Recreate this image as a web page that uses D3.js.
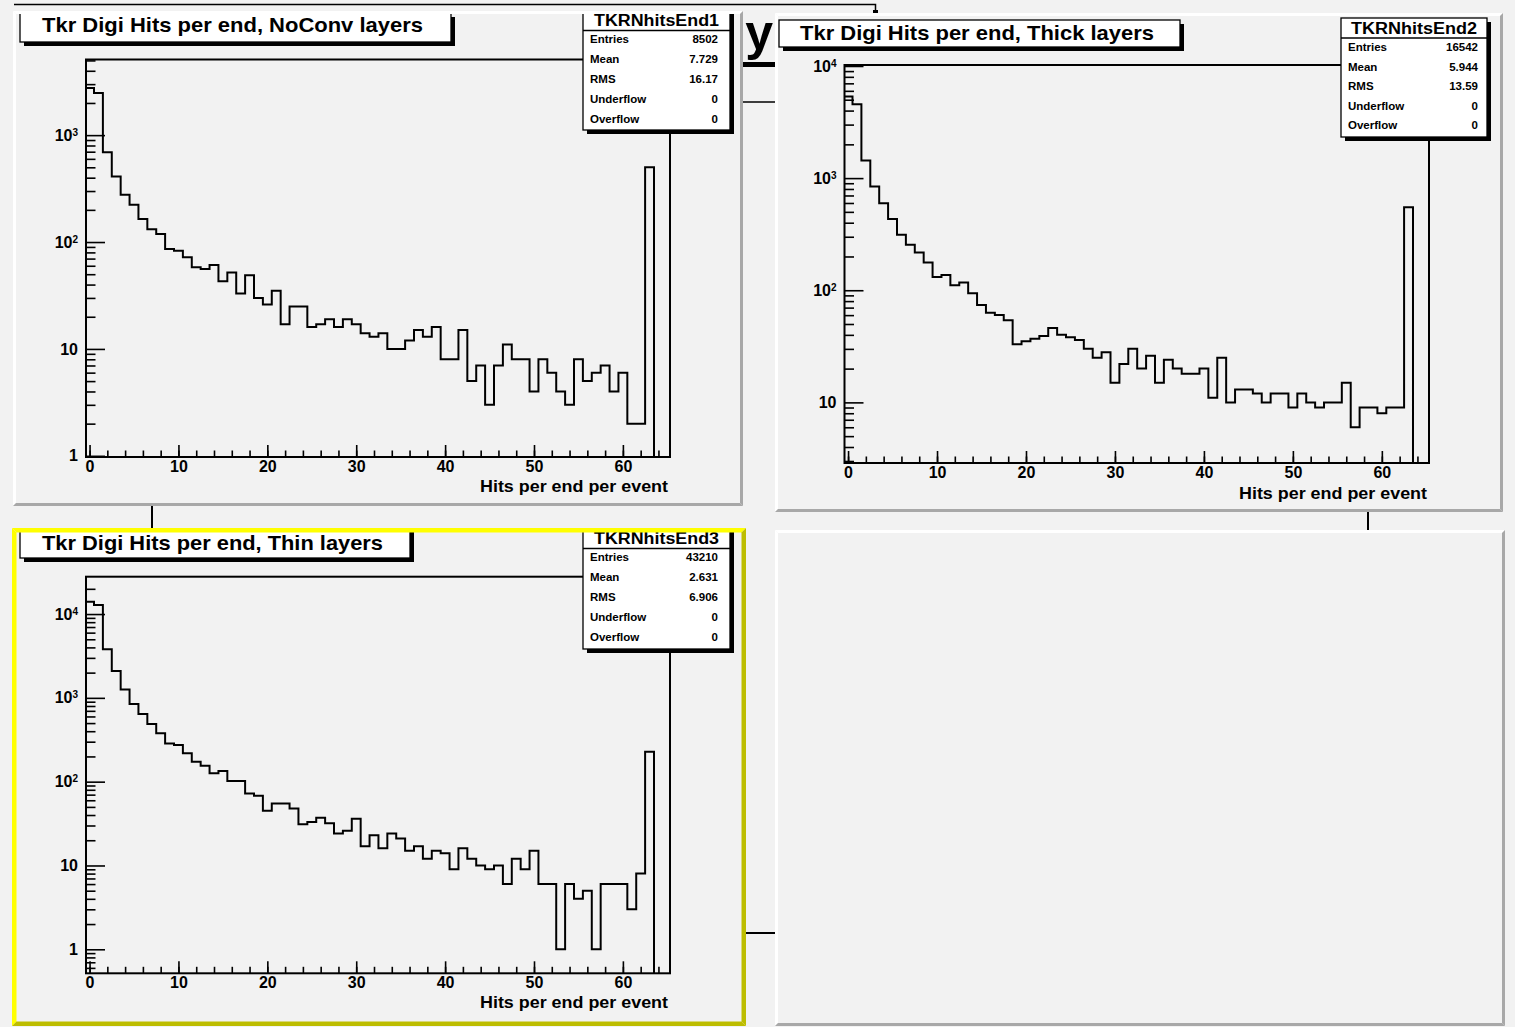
<!DOCTYPE html>
<html><head><meta charset="utf-8">
<script src="https://cdn.jsdelivr.net/npm/d3@7"></script>
<style>
html,body{margin:0;padding:0;background:#f2f2f2;}
svg{display:block;font-family:"Liberation Sans",Arial,Helvetica,sans-serif;}
</style></head><body>
<svg id="c" width="1515" height="1027"></svg>
<script>
// ---------------- DATA ----------------
const binCenters = d3.range(0, 64);   // hits per end: bins 0..63 (width 1)
const noConvCounts = [2760,2480,690,410,277,223,164,132,119,86,
  83,72,58,56,61,43,52,33,49,30,
  26,35,17,25,25,16,17,19,16,19,
  17,14,13,14,10,10,12,15,13,16,
  8,8,15,5,7,3,7,11,8,8,
  4,8,6,4,3,8,5,6,7,4,
  6,2,2,500];
const thickCounts = [5330,4560,1435,841,598,431,312,254,217,177,
  131,137,111,117,94,74,63,60,54,33,
  35,37,39,46,40,38,36,30,25,28,
  15,22,30,20,26,15,24,20,18,18,
  20,11,25,10,13,13,12,10,12,12,
  9,12,10,9,10,10,15,6,9,9,
  8,9,9,551];
const thinCounts = [14000,12800,3790,2090,1262,843,641,487,377,286,
  273,218,173,155,126,134,102,102,72,68,
  45,55,55,48,31,33,37,32,24,26,
  36,17,23,16,24,21,15,17,12,15,
  14,9,16,12,10,9,10,6,12,9,
  15,6,6,1,6,4,5,1,6,6,
  6,3,8,228];
const histTitles = ["Tkr Digi Hits per end, NoConv layers","Tkr Digi Hits per end, Thick layers","Tkr Digi Hits per end, Thin layers"];
const histNames = ["TKRNhitsEnd1","TKRNhitsEnd2","TKRNhitsEnd3"];
const statLabels = ["Entries","Mean","RMS","Underflow","Overflow"];
const statsNoConv = ["8502","7.729","16.17","0","0"];
const statsThick = ["16542","5.944","13.59","0","0"];
const statsThin = ["43210","2.631","6.906","0","0"];
const xAxisTitle = "Hits per end per event";
const xMajorTicks = [0,10,20,30,40,50,60];
const xMinorTicks = d3.range(0, 65, 2);
const yMajorNoConv = [1,10,100,1000];
const yMajorThick = [10,100,1000,10000];
const yMajorThin = [1,10,100,1000,10000];
const xDomain = [-0.4, 65.3];

// ---------------- LAYOUT ----------------
const panels = [
  {id:1, counts:noConvCounts, stats:statsNoConv, title:histTitles[0], name:histNames[0], yMajor:yMajorNoConv,
   pad:{x:13,y:11,w:730,h:495}, border:"normal",
   frame:{l:86,r:670,t:59.5,b:457}, yDomain:[0.975,5100],
   tbox:{x:20,y:13,w:431,h:29}, ttext:{x:42,y:32,w:381},
   sbox:{x:583,y:4,w:147,h:126}, shead:{y:25.5,w:125}, sline:30.5, srow0:43, sstep:20, slx:590, svx:718,
   axTitle:{x:668,y:492}},
  {id:2, counts:thickCounts, stats:statsThick, title:histTitles[1], name:histNames[1], yMajor:yMajorThick,
   pad:{x:775,y:13,w:728,h:499}, border:"normal",
   frame:{l:844.5,r:1429,t:65,b:463}, yDomain:[2.88,10200],
   tbox:{x:779,y:20,w:401,h:27}, ttext:{x:800,y:40,w:354},
   sbox:{x:1341,y:18,w:146,h:119}, shead:{y:34,w:126}, sline:38, srow0:51, sstep:19.5, slx:1348, svx:1478,
   axTitle:{x:1427,y:499}},
  {id:3, counts:thinCounts, stats:statsThin, title:histTitles[2], name:histNames[2], yMajor:yMajorThin,
   pad:{x:12,y:528,w:734,h:498}, border:"yellow",
   frame:{l:86,r:670,t:576.7,b:973.3}, yDomain:[0.517,27900],
   tbox:{x:20,y:522,w:390,h:36}, ttext:{x:42,y:550,w:341},
   sbox:{x:583,y:520,w:147,h:129}, shead:{y:544,w:125}, sline:548.5, srow0:561, sstep:20, slx:590, svx:718,
   axTitle:{x:668,y:1008}}
];
const emptyPad = {id:4, pad:{x:775,y:530,w:730,h:496}, border:"normal"};

const svg = d3.select("#c");
const defs = svg.append("defs");
svg.append("rect").attr("x",0).attr("y",0).attr("width",1515).attr("height",1027).attr("fill","#f2f2f2");

// ---- canvas background pieces (partly hidden behind pads) ----
const bg = svg.append("g");
bg.append("path").attr("d","M14,4.5H875.5V11").attr("fill","none").attr("stroke","#000").attr("stroke-width",1.5);
bg.append("rect").attr("x",873).attr("y",10).attr("width",5).attr("height",5).attr("fill","#000");
bg.append("text").attr("x",773).attr("y",50).attr("text-anchor","end").attr("font-size",50).attr("font-weight","bold").text("ly");
bg.append("line").attr("x1",740).attr("x2",776).attr("y1",64.5).attr("y2",64.5).attr("stroke","#000").attr("stroke-width",5);
bg.append("line").attr("x1",740).attr("x2",776).attr("y1",102).attr("y2",102).attr("stroke","#000").attr("stroke-width",1.5);
bg.append("line").attr("x1",152).attr("x2",152).attr("y1",504).attr("y2",530).attr("stroke","#000").attr("stroke-width",2);
bg.append("line").attr("x1",1368).attr("x2",1368).attr("y1",510).attr("y2",530).attr("stroke","#000").attr("stroke-width",2);
bg.append("line").attr("x1",744).attr("x2",777).attr("y1",933).attr("y2",933).attr("stroke","#000").attr("stroke-width",2);

function drawBevel(g, p, kind) {
  const {x,y,w,h} = p, b = kind === "yellow" ? 4.5 : 3;
  const light = kind === "yellow" ? "#ffff00" : "#ffffff";
  const dark = kind === "yellow" ? "#bdbd00" : "#a8a8a8";
  const poly = pts => pts.map(q => q.join(",")).join(" ");
  g.append("polygon").attr("fill",light).attr("points",poly([[x,y],[x+w,y],[x+w-b,y+b],[x+b,y+b]]));
  g.append("polygon").attr("fill",light).attr("points",poly([[x,y],[x+b,y+b],[x+b,y+h-b],[x,y+h]]));
  g.append("polygon").attr("fill",dark).attr("points",poly([[x,y+h],[x+b,y+h-b],[x+w-b,y+h-b],[x+w,y+h]]));
  g.append("polygon").attr("fill",dark).attr("points",poly([[x+w,y],[x+w,y+h],[x+w-b,y+h-b],[x+w-b,y+b]]));
}

function fitText(sel, width) {
  const len = sel.node().getComputedTextLength();
  if (len > 0) sel.attr("textLength", width).attr("lengthAdjust","spacingAndGlyphs");
}

const FONT = '"Liberation Sans",Arial,sans-serif';

function drawPanel(cfg) {
  const P = cfg.pad, F = cfg.frame;
  defs.append("clipPath").attr("id","padclip"+cfg.id).append("rect")
    .attr("x",P.x).attr("y",P.y).attr("width",P.w).attr("height",P.h);
  defs.append("clipPath").attr("id","frameclip"+cfg.id).append("rect")
    .attr("x",F.l).attr("y",F.t).attr("width",F.r-F.l).attr("height",F.b-F.t);
  const pg = svg.append("g");
  const g = pg.append("g").attr("clip-path",`url(#padclip${cfg.id})`);
  g.append("rect").attr("x",P.x).attr("y",P.y).attr("width",P.w).attr("height",P.h).attr("fill","#f2f2f2");

  const x = d3.scaleLinear().domain(xDomain).range([F.l, F.r]);
  const y = d3.scaleLog().domain(cfg.yDomain).range([F.b, F.t]);
  const yMin = cfg.yDomain[0];

  // histogram outline
  const pts = [[binCenters[0]-0.5, yMin]];
  binCenters.forEach((c,i) => { pts.push([c-0.5, cfg.counts[i]]); pts.push([c+0.5, cfg.counts[i]]); });
  pts.push([binCenters[binCenters.length-1]+0.5, yMin]);
  const line = d3.line().x(d => x(d[0])).y(d => y(Math.max(d[1], yMin)));
  g.append("g").attr("clip-path",`url(#frameclip${cfg.id})`)
    .append("path").attr("d", line(pts)).attr("fill","none").attr("stroke","#000")
    .attr("stroke-width",2).attr("stroke-linejoin","miter");

  // frame
  g.append("rect").attr("x",F.l).attr("y",F.t).attr("width",F.r-F.l).attr("height",F.b-F.t)
    .attr("fill","none").attr("stroke","#000").attr("stroke-width",2);

  // x axis
  const xMinorAx = d3.axisBottom(x).tickValues(xMinorTicks).tickSize(-6.5).tickFormat("");
  const xMajorAx = d3.axisBottom(x).tickValues(xMajorTicks).tickSize(-12).tickPadding(5).tickFormat(d3.format("d"));
  const gxm = g.append("g").attr("transform",`translate(0,${F.b})`).call(xMinorAx);
  const gx = g.append("g").attr("transform",`translate(0,${F.b})`).call(xMajorAx);
  [gxm,gx].forEach(a => { a.select(".domain").remove(); a.selectAll("line").attr("stroke","#000").attr("stroke-width",1.6); });
  gx.attr("font-size",16);
  gx.selectAll("text").attr("font-size",16).attr("font-weight","bold").attr("fill","#000")
    .attr("font-family",FONT).attr("dy","0.6em");

  // y axis (log)
  const [lo, hi] = cfg.yDomain;
  const minors = [];
  for (let k = Math.floor(Math.log10(lo)); k <= Math.ceil(Math.log10(hi)); k++) {
    for (let m = 2; m <= 9; m++) { const v = m*Math.pow(10,k); if (v >= lo && v <= hi) minors.push(v); }
  }
  const yMinorAx = d3.axisLeft(y).tickValues(minors).tickSize(-9.5).tickFormat("");
  const yMajorAx = d3.axisLeft(y).tickValues(cfg.yMajor).tickSize(-19).tickPadding(8).tickFormat(d => "");
  const gym = g.append("g").attr("transform",`translate(${F.l},0)`).call(yMinorAx);
  const gy = g.append("g").attr("transform",`translate(${F.l},0)`).call(yMajorAx);
  gy.attr("font-size",16);
  [gym,gy].forEach(a => { a.select(".domain").remove(); a.selectAll("line").attr("stroke","#000").attr("stroke-width",1.6); });
  gy.selectAll(".tick text").each(function(d) {
    const t = d3.select(this).attr("font-size",16).attr("font-weight","bold").attr("fill","#000")
      .attr("font-family",FONT);
    const e = Math.round(Math.log10(d));
    if (e <= 1) { t.text(String(d)); }
    else {
      t.text(null);
      t.append("tspan").text("10");
      t.append("tspan").attr("dy","-0.5em").attr("font-size",10).text(String(e));
    }
  });

  // axis title
  const at = g.append("text").attr("x",cfg.axTitle.x).attr("y",cfg.axTitle.y).attr("text-anchor","end")
    .attr("font-size",16.5).attr("font-weight","bold").text(xAxisTitle);
  fitText(at, 188);

  // title box
  const T = cfg.tbox;
  g.append("rect").attr("x",T.x+4).attr("y",T.y+4).attr("width",T.w).attr("height",T.h).attr("fill","#000");
  g.append("rect").attr("x",T.x).attr("y",T.y).attr("width",T.w).attr("height",T.h).attr("fill","#fff")
    .attr("stroke","#000").attr("stroke-width",1.3);
  const tt = g.append("text").attr("x",cfg.ttext.x).attr("y",cfg.ttext.y).attr("font-size",20.5)
    .attr("font-weight","bold").text(cfg.title);
  fitText(tt, cfg.ttext.w);

  // stats box
  const S = cfg.sbox;
  g.append("rect").attr("x",S.x+4).attr("y",S.y+4).attr("width",S.w).attr("height",S.h).attr("fill","#000");
  g.append("rect").attr("x",S.x).attr("y",S.y).attr("width",S.w).attr("height",S.h).attr("fill","#fff")
    .attr("stroke","#000").attr("stroke-width",1.3);
  const hd = g.append("text").attr("x",S.x+S.w/2).attr("y",cfg.shead.y).attr("text-anchor","middle")
    .attr("font-size",16).attr("font-weight","bold").text(cfg.name);
  fitText(hd, cfg.shead.w);
  g.append("line").attr("x1",S.x).attr("x2",S.x+S.w).attr("y1",cfg.sline).attr("y2",cfg.sline)
    .attr("stroke","#000").attr("stroke-width",1.3);
  statLabels.forEach((lab,i) => {
    const yy = cfg.srow0 + i*cfg.sstep;
    g.append("text").attr("x",cfg.slx).attr("y",yy).attr("font-size",11.5).attr("font-weight","bold").text(lab);
    g.append("text").attr("x",cfg.svx).attr("y",yy).attr("text-anchor","end").attr("font-size",11.5)
      .attr("font-weight","bold").text(cfg.stats[i]);
  });

  drawBevel(pg, P, cfg.border);
}

panels.forEach(drawPanel);
// empty 4th pad
(function(){
  const P = emptyPad.pad;
  const pg = svg.append("g");
  pg.append("rect").attr("x",P.x).attr("y",P.y).attr("width",P.w).attr("height",P.h).attr("fill","#f2f2f2");
  drawBevel(pg, P, emptyPad.border);
})();
</script>
</body></html>
